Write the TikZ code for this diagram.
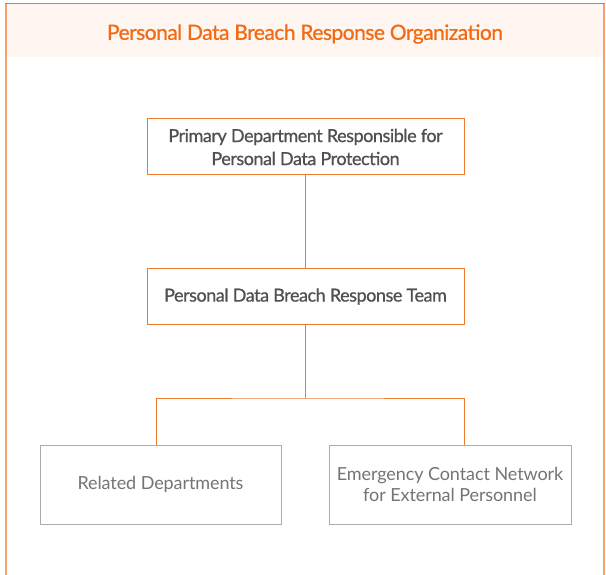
\documentclass[tikz,border=0pt]{standalone}
\usepackage{fontspec}
\setmainfont{Lato}[LetterSpace=-2]
\newfontfamily\medfont{Lato}[LetterSpace=-2.5, FakeBold=0.8]
\newfontfamily\thinfont{Lato}[LetterSpace=-0.5]
\usepackage{tikz}
\usetikzlibrary{positioning,calc}

\definecolor{brorange}{HTML}{EE7A2E}
\definecolor{brtitle}{HTML}{F26B12}
\definecolor{brfill}{HTML}{FFF5F1}
\definecolor{brgray}{HTML}{ABABAB}
\definecolor{brtext}{HTML}{505050}
\definecolor{brlight}{HTML}{747474}

\tikzset{
  mainbox/.style={draw=brorange, line width=1pt, fill=white, text=brtext,
    minimum width=317pt, align=center, font=\medfont\fontsize{18}{23}\selectfont},
  subbox/.style={draw=brgray, line width=1pt, fill=white, text=brlight,
    minimum width=241pt, minimum height=79pt, align=center,
    font=\thinfont\fontsize{18}{21}\selectfont},
  link/.style={draw=brorange, line width=0.9pt}
}

\begin{document}
\begin{tikzpicture}[x=1pt, y=-1pt]
\useasboundingbox (0,0) rectangle (606,575);

% Frame and header
\fill[brfill] (5,3) rectangle (604,57);
\draw[brorange!70, line width=2pt] (5.5,575) -- (5.5,3);
\draw[brorange!70, line width=2pt] (604,575) -- (604,3);
\draw[brorange, line width=1.5pt] (5,3.5) -- (605,3.5);
\node[text=brtitle, font=\medfont\fontsize{21}{24}\selectfont] (title) at (305,34)
  {Personal Data Breach Response Organization};

% Boxes
\node[mainbox, minimum height=56pt] (primary) at (305.5,147)
  {Primary Department Responsible for\\Personal Data Protection};
\node[mainbox, minimum height=55pt] (team) at (305.5,296.5)
  {Personal Data Breach Response Team};
\node[subbox] (related) at (160.5,484.5) {Related Departments};
\node[subbox, minimum width=242pt] (external) at (450,484.5)
  {Emergency Contact Network\\for External Personnel};

% Connectors
\coordinate (split) at (305.5,398);
\coordinate (lj) at (156,445);
\coordinate (rj) at (464,445);
\draw[link] (primary) -- (team);
\draw[link] (team) -- (split);
\draw[link] (lj) |- (split) -| (rj);
\end{tikzpicture}
\end{document}
